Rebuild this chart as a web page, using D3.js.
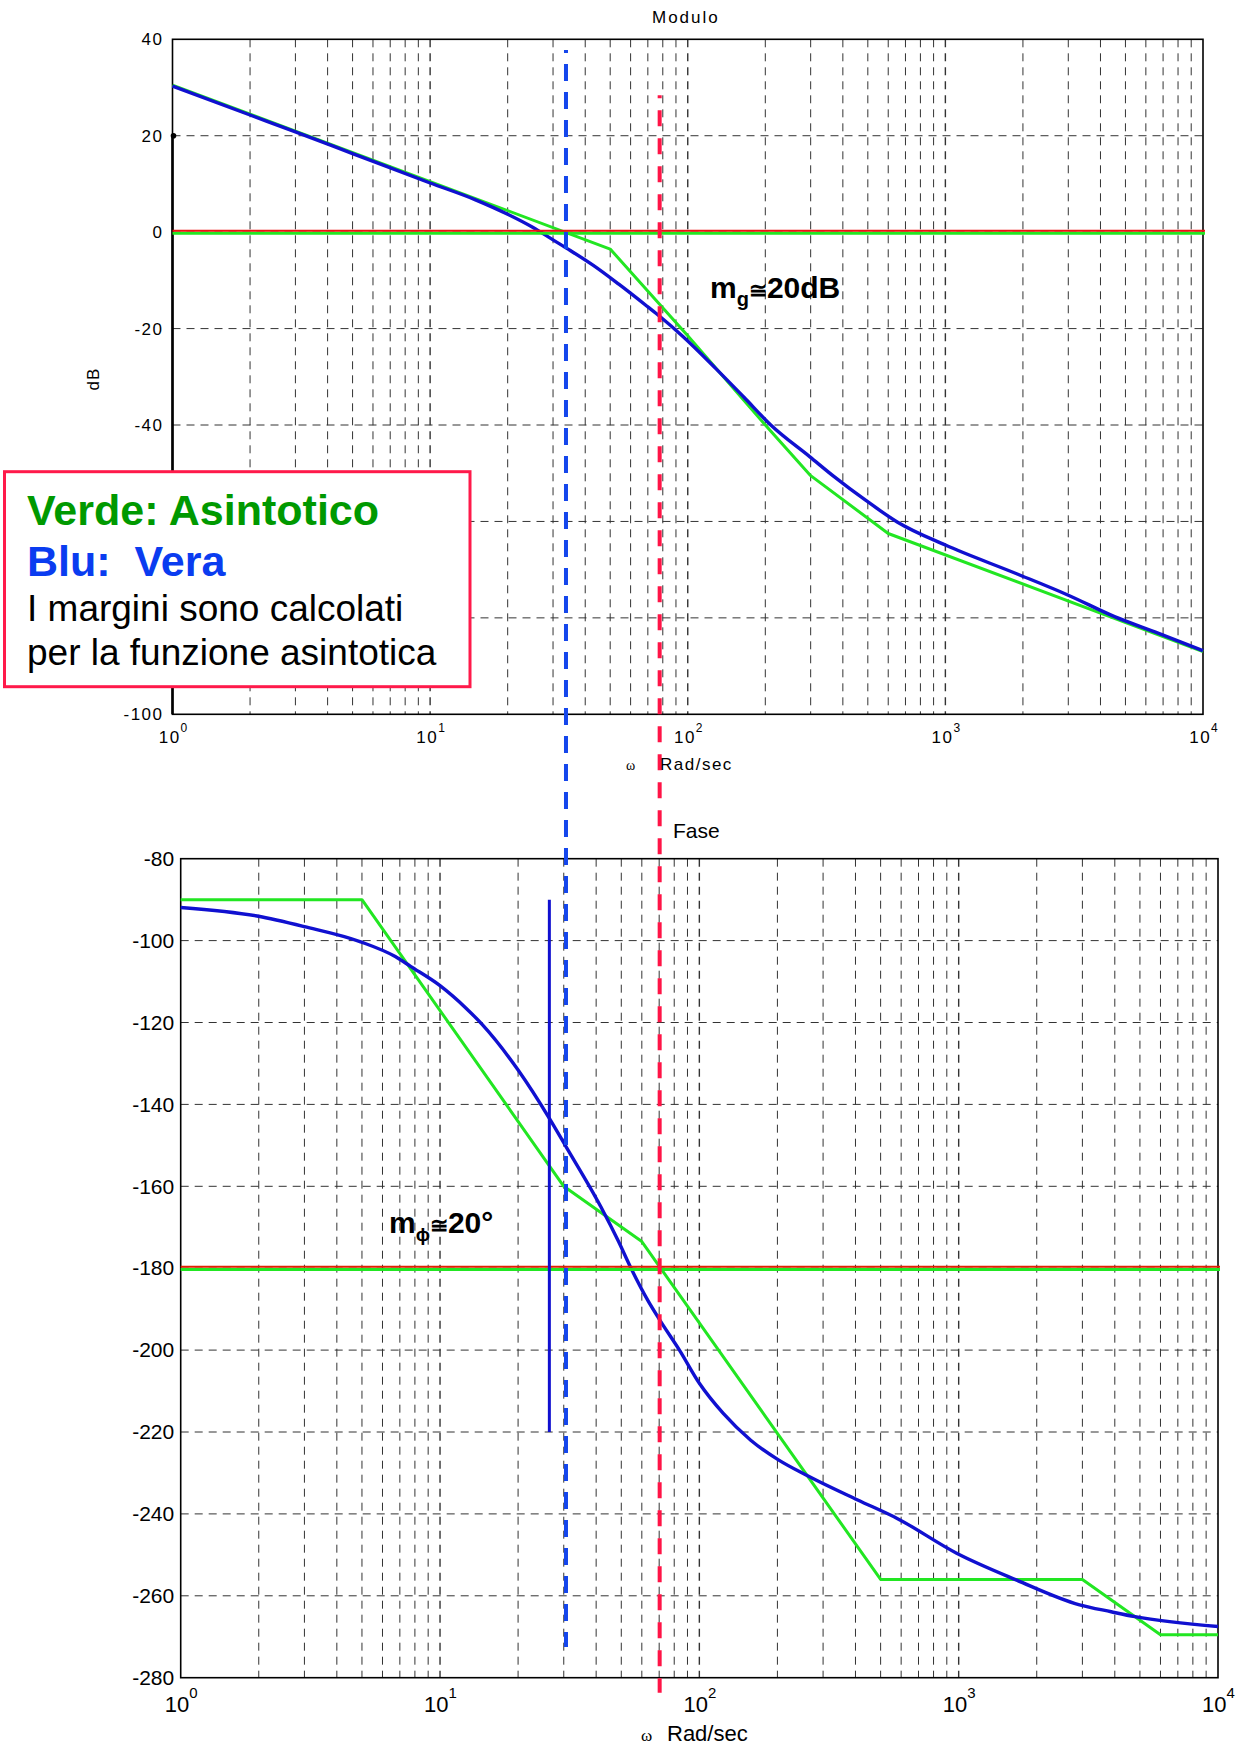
<!DOCTYPE html>
<html>
<head>
<meta charset="utf-8">
<script src="https://cdn.jsdelivr.net/npm/d3@7"></script>
<style>
  html, body { margin: 0; padding: 0; background: #fff; }
  svg { display: block; }
  text { font-family: "Liberation Sans", Arial, sans-serif; fill: #000; }
</style>
</head>
<body>
<svg id="chart" width="1241" height="1747"></svg>
<script>
// ---- Data -----------------------------------------------------------
// Decades of the frequency axis (rad/s) and their exponents
const decades = [1, 10, 100, 1000, 10000];
const decadeExponents = ["0", "1", "2", "3", "4"];

// Grid levels of the two vertical axes
const magTicks = [40, 20, 0, -20, -40, -60, -80, -100];
const phaseTicks = [-80, -100, -120, -140, -160, -180, -200, -220, -240, -260, -280];
// Magnitude levels that carry a label (-60 and -80 sit behind the legend box)
const magLabelTicks = [40, 20, 0, -20, -40, -100];

// Magnitude [omega, dB]: asymptotic (green) and true (blue)
const magAsymptotic = [
  [1, 30.5], [50, -3.5], [100, -21.5], [200, -40], [300, -50.5], [600, -62.5], [10000, -87]
];
const magTrue = [
  [1, 30.3], [2, 24.3], [3, 20.8], [5, 16.3], [10, 10.2], [15, 6.7], [20, 3.7],
  [25, 1.0], [30, -1.6], [35, -3.8], [43, -6.9], [54, -10.8], [70, -15.5], [78, -17.5],
  [96, -21.7], [128, -28.2], [165, -34.2], [210, -40], [298, -46.6], [370, -50.7],
  [490, -55.6], [650, -60.1], [1000, -64.9], [1880, -70.8], [3000, -75.3],
  [4560, -79.8], [6500, -82.9], [10000, -86.8]
];

// Phase [omega, deg]: asymptotic (green) and true (blue)
const phaseAsymptotic = [
  [1, -90], [5, -90], [30, -160], [60, -173.5], [500, -256], [3000, -256],
  [6000, -269.5], [10000, -269.5]
];
const phaseTrue = [
  [1, -91.9], [1.97, -94.0], [3, -96.6], [4.94, -100.3], [6.72, -103.9], [7.7, -106.3],
  [10, -111.0], [12.6, -116.5], [14.5, -120.4], [20, -131.6], [26.4, -143.4],
  [30.6, -150.3], [41.7, -165.0], [48.8, -173.5], [54.5, -180], [63.2, -187.8],
  [70.3, -192.6], [83.8, -200.0], [100, -208.1], [123.4, -215.4], [157.8, -222.0],
  [201.8, -226.8], [258, -230.5], [408, -236.6], [579, -241.1], [982, -249.6],
  [1665, -256.1], [2924, -262.2], [3873, -263.9], [4786, -265.1], [10000, -267.5]
];

// Reference levels: 0 dB and -180 deg
const magReference = 0;
const phaseReference = -180;

// Margin construction lines: omega on the phase axis, span from a dB level
// in the magnitude panel down to a degree level in the phase panel
const crossoverLine = { omega: 30.6, fromDb: 37.8, toDeg: -272.5 };
const phaseCrossLine = { omega: 70.3, fromDb: 28.4, toDeg: -283.7 };
const marginMarker = { omega: 26.4, fromDeg: -90, toDeg: -220 };

// ---- Colours --------------------------------------------------------
const GREEN = "#22e622";
const BLUE = "#1010d0";
const BLUE_DASH = "#1446ec";
const RED_DASH = "#ff1446";

// ---- Scales ---------------------------------------------------------
const svg = d3.select("#chart");

const xMag = d3.scaleLog().domain([1, 1e4]).range([172.5, 1203]);
const yMag = d3.scaleLinear().domain([40, -100]).range([39.3, 714.3]);
const xPh = d3.scaleLog().domain([1, 1e4]).range([180.7, 1218]);
const yPh = d3.scaleLinear().domain([-80, -280]).range([858.7, 1677.7]);

// grid frequencies: 2..9 of every decade plus the inner decades
const gridOmegas = [];
decades.slice(0, 4).forEach(d => { for (let m = 1; m <= 9; m++) if (d * m > 1) gridOmegas.push(d * m); });

function panel(x, y, yTicks, yLabels, opts) {
  const g = svg.append("g");
  const [x0, x1] = x.range();
  const [y0, y1] = y.range();

  // dashed grid
  g.append("g").selectAll("line").data(gridOmegas).join("line")
    .attr("x1", d => x(d)).attr("x2", d => x(d))
    .attr("y1", y0).attr("y2", y1)
    .attr("stroke", "#333").attr("stroke-width", d => decades.includes(d) ? 1.4 : 1)
    .attr("stroke-dasharray", "8,6");
  g.append("g").selectAll("line").data(yTicks.slice(1, -1)).join("line")
    .attr("x1", x0).attr("x2", x1)
    .attr("y1", d => y(d)).attr("y2", d => y(d))
    .attr("stroke", "#333").attr("stroke-width", 1)
    .attr("stroke-dasharray", "8,6");

  // frame
  g.append("rect").attr("x", x0).attr("y", y0)
    .attr("width", x1 - x0).attr("height", y1 - y0)
    .attr("fill", "none").attr("stroke", "#000").attr("stroke-width", 1.6);

  // y axis labels (plain hyphen for negative values)
  const ya = g.append("g").attr("transform", `translate(${x0},0)`)
    .call(d3.axisLeft(y).tickValues(yLabels).tickSize(0).tickPadding(opts.yPad)
      .tickFormat(d => String(d)));
  ya.select(".domain").remove();
  ya.selectAll("text")
    .attr("font-size", opts.yFont).attr("letter-spacing", opts.spacing)
    .attr("font-family", "Liberation Sans, Arial, sans-serif").attr("fill", "#000");

  // x axis labels with powers of ten
  const xa = g.append("g").attr("transform", `translate(0,${y1})`)
    .call(d3.axisBottom(x).tickValues(decades).tickSize(0).tickFormat(""));
  xa.select(".domain").remove();
  xa.selectAll(".tick text").each(function (d, i) {
    const t = d3.select(this)
      .attr("y", opts.xBase).attr("dy", 0)
      .attr("font-family", "Liberation Sans, Arial, sans-serif")
      .attr("fill", "#000").attr("text-anchor", "middle");
    t.append("tspan").attr("font-size", opts.xFont).attr("letter-spacing", opts.spacing).text("10");
    t.append("tspan").attr("font-size", opts.expFont).attr("dy", -opts.expShift).text(decadeExponents[i]);
  });
  return g;
}

panel(xMag, yMag, magTicks, magLabelTicks,
  { yPad: 9, yFont: 17, spacing: 1.5, xBase: 29, xFont: 17, expFont: 12, expShift: 11 });
panel(xPh, yPh, phaseTicks, phaseTicks,
  { yPad: 6.5, yFont: 21, spacing: 0, xBase: 34, xFont: 22, expFont: 15, expShift: 14 });

// thicker left spine segment below the 20 dB level with its marker
svg.append("line")
  .attr("x1", xMag(1)).attr("x2", xMag(1))
  .attr("y1", yMag(20)).attr("y2", yMag(-100))
  .attr("stroke", "#000").attr("stroke-width", 2.6);
svg.append("circle").attr("cx", xMag(1) + 1).attr("cy", yMag(20)).attr("r", 2.8).attr("fill", "#000");

// ---- Curves ---------------------------------------------------------
const magLine = d3.line().x(d => xMag(d[0])).y(d => yMag(d[1]));
const phLine = d3.line().x(d => xPh(d[0])).y(d => yPh(d[1]));
const magSmooth = d3.line().curve(d3.curveMonotoneX).x(d => xMag(d[0])).y(d => yMag(d[1]));
const phSmooth = d3.line().curve(d3.curveMonotoneX).x(d => xPh(d[0])).y(d => yPh(d[1]));

svg.append("path").datum(magAsymptotic).attr("d", magLine)
  .attr("fill", "none").attr("stroke", GREEN).attr("stroke-width", 3).attr("stroke-linejoin", "round");
svg.append("path").datum(magTrue).attr("d", magSmooth)
  .attr("fill", "none").attr("stroke", BLUE).attr("stroke-width", 3.4).attr("stroke-linejoin", "round");
svg.append("path").datum(phaseAsymptotic).attr("d", phLine)
  .attr("fill", "none").attr("stroke", GREEN).attr("stroke-width", 3).attr("stroke-linejoin", "round");
svg.append("path").datum(phaseTrue).attr("d", phSmooth)
  .attr("fill", "none").attr("stroke", BLUE).attr("stroke-width", 3.4).attr("stroke-linejoin", "round");

// reference levels: green with a red line just above it
function refLevel(x, yPos, redColor) {
  const [x0, x1] = x.range();
  svg.append("line").attr("x1", x0).attr("x2", x1 + 2)
    .attr("y1", yPos + 1.2).attr("y2", yPos + 1.2)
    .attr("stroke", GREEN).attr("stroke-width", 3);
  svg.append("line").attr("x1", x0).attr("x2", x1 + 2)
    .attr("y1", yPos - 1.4).attr("y2", yPos - 1.4)
    .attr("stroke", redColor).attr("stroke-width", 2);
}
refLevel(xMag, yMag(magReference), "#ee1111");
refLevel(xPh, yPh(phaseReference), "#e02000");

// ---- Margin construction lines ---------------------------------------
svg.append("line")
  .attr("x1", xPh(crossoverLine.omega)).attr("x2", xPh(crossoverLine.omega))
  .attr("y1", yMag(crossoverLine.fromDb)).attr("y2", yPh(crossoverLine.toDeg))
  .attr("stroke", BLUE_DASH).attr("stroke-width", 4)
  .attr("stroke-dasharray", "17,11").attr("stroke-dashoffset", 14);
svg.append("line")
  .attr("x1", xPh(phaseCrossLine.omega)).attr("x2", xPh(phaseCrossLine.omega))
  .attr("y1", yMag(phaseCrossLine.fromDb)).attr("y2", yPh(phaseCrossLine.toDeg))
  .attr("stroke", RED_DASH).attr("stroke-width", 4)
  .attr("stroke-dasharray", "16,12").attr("stroke-dashoffset", 13);
svg.append("line")
  .attr("x1", xPh(marginMarker.omega)).attr("x2", xPh(marginMarker.omega))
  .attr("y1", yPh(marginMarker.fromDeg)).attr("y2", yPh(marginMarker.toDeg))
  .attr("stroke", BLUE).attr("stroke-width", 3);

// ---- Titles and axis names -------------------------------------------
svg.append("text").attr("x", 652).attr("y", 23)
  .attr("font-size", 17).attr("letter-spacing", 2).text("Modulo");
svg.append("text").attr("transform", "translate(98.5,379) rotate(-90)")
  .attr("text-anchor", "middle").attr("font-size", 17).attr("letter-spacing", 1).text("dB");

const topXName = svg.append("text").attr("y", 770);
topXName.append("tspan").attr("x", 626).attr("font-family", "Liberation Serif, serif").attr("font-size", 14).text("ω");
topXName.append("tspan").attr("x", 660).attr("font-size", 17).attr("letter-spacing", 1.5).text("Rad/sec");

svg.append("text").attr("x", 673).attr("y", 838).attr("font-size", 21).text("Fase");

const botXName = svg.append("text").attr("y", 1741);
botXName.append("tspan").attr("x", 641).attr("font-family", "Liberation Serif, serif").attr("font-size", 17).text("ω");
botXName.append("tspan").attr("x", 667).attr("font-size", 22).text("Rad/sec");

// ---- Margin annotations ---------------------------------------------
const mg = svg.append("text").attr("x", 710).attr("y", 298)
  .attr("font-weight", "bold").attr("font-size", 30);
mg.append("tspan").text("m");
mg.append("tspan").attr("font-size", 20).attr("dy", 8).text("g");
mg.append("tspan").attr("font-size", 22).attr("dy", -8).text("≅");
mg.append("tspan").text("20dB");

const mp = svg.append("text").attr("x", 389).attr("y", 1233)
  .attr("font-weight", "bold").attr("font-size", 30);
mp.append("tspan").text("m");
mp.append("tspan").attr("font-size", 19).attr("dy", 8).text("ϕ");
mp.append("tspan").attr("font-size", 22).attr("dy", -8).text("≅");
mp.append("tspan").text("20°");

// ---- Legend box ------------------------------------------------------
const lg = svg.append("g");
lg.append("rect").attr("x", 4.5).attr("y", 471.7).attr("width", 465.5).attr("height", 215)
  .attr("fill", "#fff").attr("stroke", "#ff1a4a").attr("stroke-width", 3);
lg.append("text").attr("x", 27).attr("y", 525).attr("font-size", 43).attr("font-weight", "bold")
  .style("fill", "#009900").text("Verde: Asintotico");
lg.append("text").attr("x", 27).attr("y", 576).attr("font-size", 43).attr("font-weight", "bold")
  .attr("xml:space", "preserve").style("white-space", "pre").style("fill", "#0a3cf0").text("Blu:  Vera");
lg.append("text").attr("x", 27).attr("y", 620.7).attr("font-size", 37).text("I margini sono calcolati");
lg.append("text").attr("x", 27).attr("y", 665).attr("font-size", 37).text("per la funzione asintotica");
</script>
</body>
</html>
